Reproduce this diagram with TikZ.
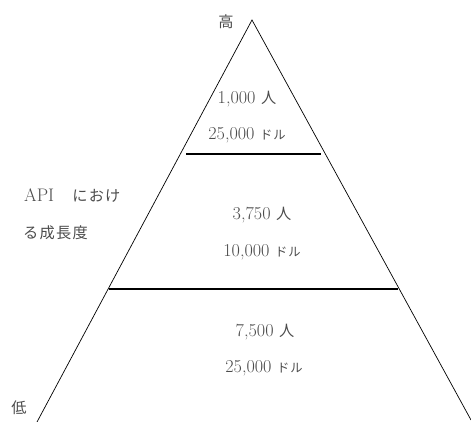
\documentclass[tikz,border=0pt]{standalone}
\usepackage{fontspec}
\newfontfamily\jpfont[LetterSpace=8]{Noto Sans CJK JP}
\begin{document}
\begin{tikzpicture}[
            x=0.03cm, y=-0.03cm,
            label/.style={text=black!70, font=\fontsize{15.5}{18}\selectfont, inner sep=0pt},
            edge/.style={line width=0.6pt},
            divider/.style={line width=0.9pt}
            ]
            \useasboundingbox (0,0) rectangle (471,422);
            \coordinate (top) at (252,20);
            \coordinate (bl) at (37,422);
            \coordinate (br) at (471,420);
            \coordinate (l1) at (186,154);
            \coordinate (r1) at (321,154);
            \coordinate (l2) at (109,289);
            \coordinate (r2) at (398,289);

            \draw[edge] (bl)--(top)--(br);
            \draw[divider, line width=1pt] (l1)--(r1);
            \draw[divider] (l2)--(r2);

            \node[label] (high) at (226,22) {\jpfont\fontsize{13}{15}\selectfont 高};
            \node[label] (low) at (19,408) {\jpfont\fontsize{13}{15}\selectfont 低};
            \node[label, anchor=west] (axis1) at (24,196) {API\quad{\jpfont\fontsize{13}{15}\selectfont におけ}};
            \node[label, anchor=west] (axis2) at (23,233) {\jpfont\fontsize{13}{15}\selectfont る成長度};

            \node[label] (users1) at (247,99) {1,000 {\jpfont\fontsize{13}{15}\selectfont 人}};
            \node[label] (price1) at (247,135) {25,000 {\jpfont\fontsize{10.5}{12}\selectfont ドル}};
            \node[label] (users2) at (262,215) {3,750 {\jpfont\fontsize{13}{15}\selectfont 人}};
            \node[label] (price2) at (262,252) {10,000 {\jpfont\fontsize{10.5}{12}\selectfont ドル}};
            \node[label] (users3) at (265,332) {7,500 {\jpfont\fontsize{13}{15}\selectfont 人}};
            \node[label] (price3) at (264,368) {25,000 {\jpfont\fontsize{10.5}{12}\selectfont ドル}};

            \end{tikzpicture}
\end{document}
